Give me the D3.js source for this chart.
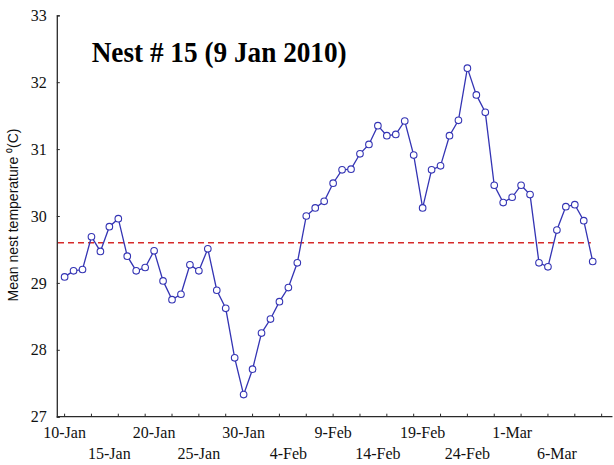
<!DOCTYPE html>
<html>
<head>
<meta charset="utf-8">
<script src="https://cdn.jsdelivr.net/npm/d3@7"></script>
<style>
  html, body { margin: 0; padding: 0; background: #fff; }
  svg { display: block; }
</style>
</head>
<body>
<script>
// Daily mean nest temperature, nest #15, from 10 Jan to 10 Mar 2010
const startDate = new Date(2010, 0, 10);
const temps = [
  29.09, 29.18, 29.20, 29.69, 29.47, 29.84, 29.96, 29.40, 29.18, 29.23,
  29.48, 29.03, 28.75, 28.83, 29.27, 29.18, 29.51, 28.89, 28.62, 27.88,
  27.33, 27.71, 28.25, 28.46, 28.72, 28.93, 29.30, 30.00, 30.12, 30.22,
  30.49, 30.69, 30.70, 30.93, 31.07, 31.35, 31.20, 31.22, 31.42, 30.91,
  30.12, 30.69, 30.75, 31.20, 31.43, 32.21, 31.81, 31.55, 30.46, 30.20,
  30.28, 30.46, 30.32, 29.30, 29.24, 29.79, 30.14, 30.17, 29.93, 29.32
];
const meanTemp = 29.6;
const yTicks = [27, 28, 29, 30, 31, 32, 33];
const xLabelDates = d3.range(0, 60, 5).map(i => d3.timeDay.offset(startDate, i));
const xTickDates = d3.range(0, 61, 3).map(i => d3.timeDay.offset(startDate, i));
const titleText = "Nest # 15 (9 Jan 2010)";
const yTitle = "Mean nest temperature ⁰(C)";

const W = 614, H = 465;
const svg = d3.select("body").append("svg").attr("width", W).attr("height", H);

const data = temps.map((v, i) => ({ date: d3.timeDay.offset(startDate, i), value: v }));

const x = d3.scaleTime()
  .domain([startDate, d3.timeDay.offset(startDate, 59)])
  .range([64.6, 592.7]);
const y = d3.scaleLinear().domain([27, 33]).range([416.7, 15.3]);

const axisColor = "#2a2a2a";
const serif = "'Liberation Serif', 'Times New Roman', serif";

// x axis line spanning a little beyond the data
const xStart = x(d3.timeHour.offset(startDate, -21));
const xEnd = x(d3.timeHour.offset(startDate, 61 * 24 + 5));
svg.append("line")
  .attr("x1", 56.8).attr("x2", xEnd)
  .attr("y1", y(27)).attr("y2", y(27))
  .attr("stroke", axisColor).attr("stroke-width", 1.3);

// inward x ticks every 3 days
svg.append("g").selectAll("line").data(xTickDates).join("line")
  .attr("x1", d => x(d)).attr("x2", d => x(d))
  .attr("y1", y(27)).attr("y2", y(27) - 3)
  .attr("stroke", axisColor).attr("stroke-width", 1);

// x labels every 5 days, staggered on two rows
const fmt = d3.timeFormat("%-d-%b");
svg.append("g").selectAll("text").data(xLabelDates).join("text")
  .attr("x", d => x(d))
  .attr("y", (d, i) => i % 2 === 0 ? 438 : 459)
  .attr("text-anchor", "middle")
  .attr("font-family", serif)
  .attr("font-size", 16)
  .attr("fill", "#111")
  .text(d => fmt(d));

// y axis
const yAxis = d3.axisLeft(y).tickValues(yTicks).tickSize(-3).tickPadding(10)
  .tickFormat(d3.format("d"));
const gy = svg.append("g").attr("transform", "translate(56.8,0)").call(yAxis);
gy.select(".domain").attr("stroke", axisColor).attr("stroke-width", 1.3);
gy.selectAll(".tick line").attr("stroke", axisColor);
gy.selectAll(".tick text")
  .attr("font-family", serif).attr("font-size", 16).attr("fill", "#111");

// y axis title
svg.append("text")
  .attr("transform", `translate(18,215) rotate(-90)`)
  .attr("text-anchor", "middle")
  .attr("font-family", "'Liberation Sans', Arial, sans-serif")
  .attr("font-size", 14)
  .attr("fill", "#111")
  .text(yTitle);

// mean reference line
svg.append("line")
  .attr("x1", 58).attr("x2", x(d3.timeHour.offset(startDate, 59 * 24 - 5)))
  .attr("y1", y(meanTemp)).attr("y2", y(meanTemp))
  .attr("stroke", "#d62a2a").attr("stroke-width", 1.3)
  .attr("stroke-dasharray", "6,4");

// temperature series
const blue = "#3434b4";
svg.append("path").datum(data)
  .attr("d", d3.line().x(d => x(d.date)).y(d => y(d.value)))
  .attr("fill", "none").attr("stroke", blue).attr("stroke-width", 1.3);

svg.append("g").selectAll("circle").data(data).join("circle")
  .attr("cx", d => x(d.date)).attr("cy", d => y(d.value))
  .attr("r", 3.3)
  .attr("fill", "#fff").attr("stroke", blue).attr("stroke-width", 1.1);

// title
svg.append("text")
  .attr("x", 91.7).attr("y", 61.5)
  .attr("font-family", serif)
  .attr("font-weight", "bold")
  .attr("font-size", 29)
  .attr("textLength", 255)
  .attr("lengthAdjust", "spacingAndGlyphs")
  .attr("fill", "#000")
  .text(titleText);
</script>
</body>
</html>
